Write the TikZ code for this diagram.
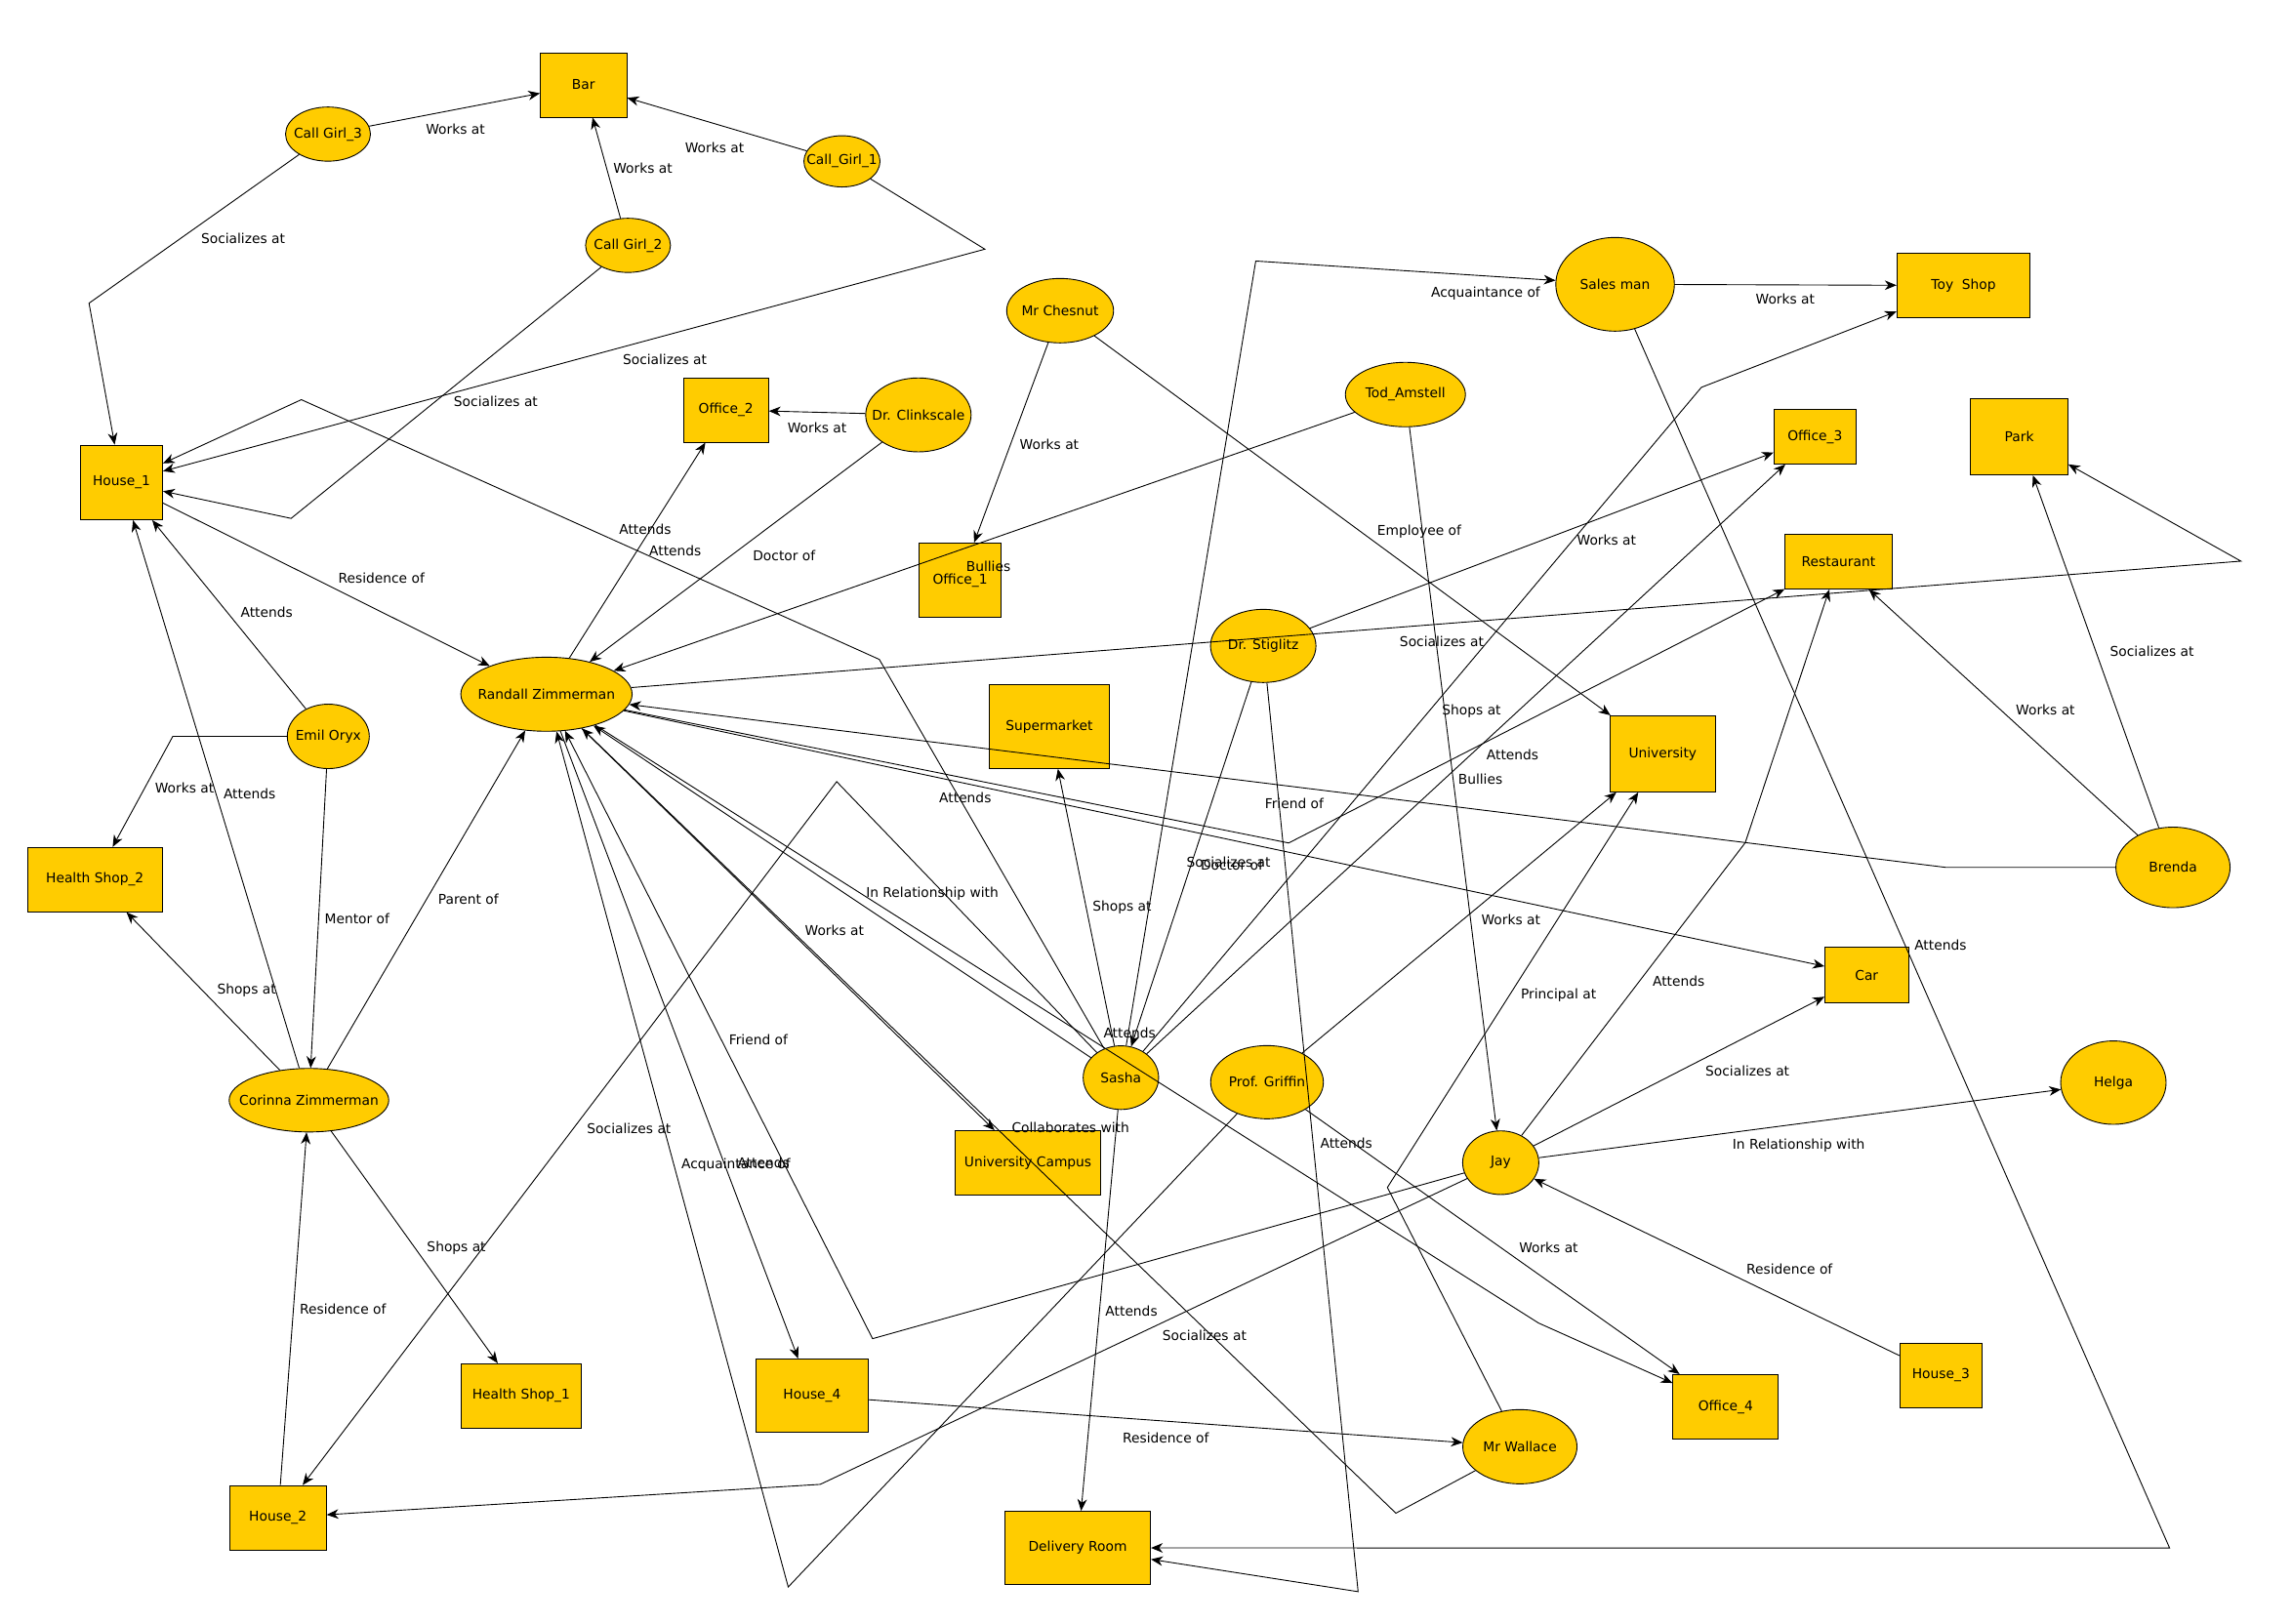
\documentclass[tikz,border=0pt]{standalone}
\usepackage{fontspec}
\setmainfont{DejaVu Sans}
\usetikzlibrary{arrows.meta,shapes.geometric}
\definecolor{nodeyellow}{HTML}{FFCC00}
\newcommand{\lblfont}{\fontsize{9.2}{11}\selectfont}
\newcommand{\ntext}[1]{\makebox[0pt]{#1}}
\tikzset{
	place/.style 2 args={rectangle, draw, fill=nodeyellow, line width=0.6pt, inner sep=0pt, minimum width=#1pt, minimum height=#2pt, font=\lblfont},
	person/.style 2 args={ellipse, draw, fill=nodeyellow, line width=0.6pt, inner sep=0pt, minimum width=#1pt, minimum height=#2pt, font=\lblfont},
	rel/.style={-{Stealth[length=8pt,width=6.5pt,inset=2.5pt]}, line width=0.6pt},
	lbl/.style={font=\lblfont, inner sep=0pt}
}
\begin{document}
\begin{tikzpicture}[x=1pt, y=-1pt]
	\fill[white] (0,0) rectangle (1565.3,1109.3);
	\useasboundingbox (0,0) rectangle (1565.3,1109.3);
	% places
	\node[place={59}{44}] (bar) at (398.5,58) {\ntext{Bar}};
	\node[place={56}{51}] (houseone) at (83,329.5) {\ntext{House\_1}};
	\node[place={58}{44}] (officetwo) at (495.8,280) {\ntext{Office\_2}};
	\node[place={56}{51}] (officeone) at (655.7,396.4) {\ntext{Office\_1}};
	\node[place={92}{44}] (hstwo) at (64.8,600.8) {\ntext{Health Shop\_2}};
	\node[place={82}{57}] (supermarket) at (716.6,496.4) {\ntext{Supermarket}};
	\node[place={82}{44}] (hsone) at (355.9,953.5) {\ntext{Health Shop\_1}};
	\node[place={77}{50}] (housefour) at (554.6,953.3) {\ntext{House\_4}};
	\node[place={66}{44}] (housetwo) at (189.8,1036.7) {\ntext{House\_2}};
	\node[place={99}{44}] (campus) at (702,794.3) {\ntext{University Campus}};
	\node[place={99.5}{50}] (delivery) at (736,1057.3) {\ntext{Delivery Room}};
	\node[place={91}{44}] (toyshop) at (1341,195) {\ntext{Toy\ \ Shop}};
	\node[place={56}{37}] (officethree) at (1239.5,298.4) {\ntext{Office\_3}};
	\node[place={66.5}{52}] (park) at (1379,298.4) {\ntext{Park}};
	\node[place={73}{37.5}] (restaurant) at (1255.6,383.6) {\ntext{Restaurant}};
	\node[place={72}{52}] (university) at (1135.5,514.9) {\ntext{University}};
	\node[place={57}{38}] (car) at (1274.8,666.1) {\ntext{Car}};
	\node[place={72}{44}] (officefour) at (1178.5,960.9) {\ntext{Office\_4}};
	\node[place={56}{44}] (housethree) at (1325.5,939.6) {\ntext{House\_3}};
	% people
	\node[person={58}{37}] (cgthree) at (224,91.6) {\ntext{Call Girl\_3}};
	\node[person={52}{35}] (cgone) at (575,110.2) {\ntext{Call\_Girl\_1}};
	\node[person={58}{37}] (cgtwo) at (428.9,167.6) {\ntext{Call Girl\_2}};
	\node[person={72}{50.5}] (clinkscale) at (627.2,283.4) {\ntext{Dr. Clinkscale}};
	\node[person={73}{44}] (chesnut) at (724,212.2) {\ntext{Mr Chesnut}};
	\node[person={82}{44}] (tod) at (959.8,269.5) {\ntext{Tod\_Amstell}};
	\node[person={81}{64}] (salesman) at (1103,194.2) {\ntext{Sales man}};
	\node[person={72}{50}] (stiglitz) at (862.7,441.2) {\ntext{Dr. Stiglitz}};
	\node[person={78}{55}] (brenda) at (1484,592.5) {\ntext{Brenda}};
	\node[person={117}{50.6}] (randall) at (373.2,474.2) {\ntext{Randall Zimmerman}};
	\node[person={56}{44}] (emil) at (224.2,503) {\ntext{Emil Oryx}};
	\node[person={109}{43.4}] (corinna) at (211,751.5) {\ntext{Corinna Zimmerman}};
	\node[person={51.5}{43.5}] (sasha) at (765.5,736.1) {\ntext{Sasha}};
	\node[person={77}{50}] (griffin) at (865.3,739.2) {\ntext{Prof. Griffin}};
	\node[person={52}{43.5}] (jay) at (1024.9,794.2) {\ntext{Jay}};
	\node[person={72}{57}] (helga) at (1443.3,739.5) {\ntext{Helga}};
	\node[person={78}{50.7}] (wallace) at (1038,988.2) {\ntext{Mr Wallace}};
	% relations
	\draw[rel] (cgthree) -- (bar) node[lbl] at (311,88) {Works at};
	\draw[rel] (cgone) -- (bar) node[lbl] at (488,101) {Works at};
	\draw[rel] (cgtwo) -- (bar) node[lbl] at (439,115) {Works at};
	\draw[rel] (cgthree) -- (60.8,207.1) -- (houseone) node[lbl] at (166,163) {Socializes at};
	\draw[rel] (cgone) -- (672.6,170.2) -- (houseone) node[lbl] at (454,245.4) {Socializes at};
	\draw[rel] (cgtwo) -- (198.8,354.1) -- (houseone) node[lbl] at (338.6,274.2) {Socializes at};
	\draw[rel] (sasha) -- (600.5,450.4) -- (205.8,273) -- (houseone) node[lbl] at (461.2,376) {Attends};
	\draw[rel] (houseone) -- (randall) node[lbl] at (260.5,394.6) {Residence of};
	\draw[rel] (emil) -- (houseone) node[lbl] at (182.1,418.1) {Attends};
	\draw[rel] (corinna) -- (houseone) node[lbl] at (170.4,542.5) {Attends};
	\draw[rel] (emil) -- (118,503) -- (hstwo) node[lbl] at (126,538) {Works at};
	\draw[rel] (emil) -- (corinna) node[lbl] at (243.9,627.6) {Mentor of};
	\draw[rel] (corinna) -- (randall) node[lbl] at (319.9,614.4) {Parent of};
	\draw[rel] (corinna) -- (hstwo) node[lbl] at (168.4,676.4) {Shops at};
	\draw[rel] (corinna) -- (hsone) node[lbl] at (311.7,852.4) {Shops at};
	\draw[rel] (housetwo) -- (corinna) node[lbl] at (234.2,894.5) {Residence of};
	\draw[rel] (randall) -- (officetwo) node[lbl] at (440.6,361.7) {Attends};
	\draw[rel] (clinkscale) -- (officetwo) node[lbl] at (558,292) {Works at};
	\draw[rel] (clinkscale) -- (randall) node[lbl] at (535.5,379.3) {Doctor of};
	\draw[rel] (tod) -- (randall) node[lbl] at (675,387.2) {Bullies};
	\draw[rel] (chesnut) -- (officeone) node[lbl] at (716.6,303.3) {Works at};
	\draw[rel] (chesnut) -- (university) node[lbl] at (969.3,362.8) {Employee of};
	\draw[rel] (salesman) -- (toyshop) node[lbl] at (1219.2,204.1) {Works at};
	\draw[rel] (sasha) -- (857.6,178.3) -- (salesman) node[lbl] at (1014.6,200.3) {Acquaintance of};
	\draw[rel] (tod) -- (jay) node[lbl] at (1011,532.2) {Bullies};
	\draw[rel] (stiglitz) -- (officethree) node[lbl] at (1097.2,368.6) {Works at};
	\draw[rel] (sasha) -- (1161.9,264.6) -- (toyshop) node[lbl] at (1005,486) {Shops at};
	\draw[rel] (sasha) -- (officethree) node[lbl] at (1033,515.6) {Attends};
	\draw[rel] (randall) -- (1530.4,383.3) -- (park) node[lbl] at (984.6,438) {Socializes at};
	\draw[rel] (randall) -- (880.1,575.8) -- (restaurant) node[lbl] at (839,589) {Socializes at};
	\draw[rel] (brenda) -- (1329,592.5) -- (randall) node[lbl] at (883.9,549.1) {Friend of};
	\draw[rel] (randall) -- (car) node[lbl] at (659.2,545.2) {Attends};
	\draw[rel] (brenda) -- (restaurant) node[lbl] at (1396.9,484.8) {Works at};
	\draw[rel] (brenda) -- (park) node[lbl] at (1469.7,445.2) {Socializes at};
	\draw[rel] (sasha) -- (randall) node[lbl] at (636.7,610.4) {In Relationship with};
	\draw[rel] (randall) -- (campus) node[lbl] at (569.9,635.7) {Works at};
	\draw[rel] (sasha) -- (supermarket) node[lbl] at (766.3,619.9) {Shops at};
	\draw[rel] (stiglitz) -- (sasha) node[lbl] at (841.3,590.7) {Doctor of};
	\draw[rel] (griffin) -- (university) node[lbl] at (1031.8,628.3) {Works at};
	\draw[rel] (salesman) -- (1481.7,1057.4) -- (delivery) node[lbl] at (1325.2,645.8) {Attends};
	\draw[rel] (wallace) -- (947.5,811.1) -- (university) node[lbl] at (1064.4,679.9) {Principal at};
	\draw[rel] (jay) -- (1191.9,575.6) -- (restaurant) node[lbl] at (1146.4,670.5) {Attends};
	\draw[rel] (jay) -- (car) node[lbl] at (1193.4,731.6) {Socializes at};
	\draw[rel] (jay) -- (helga) node[lbl] at (1228.4,782.6) {In Relationship with};
	\draw[rel] (housethree) -- (jay) node[lbl] at (1222.1,866.7) {Residence of};
	\draw[rel] (griffin) -- (officefour) node[lbl] at (1057.6,852.1) {Works at};
	\draw[rel] (stiglitz) -- (927.5,1087.2) -- (delivery) node[lbl] at (919.4,780.6) {Attends};
	\draw[rel] (randall) -- (1050.7,903.7) -- (officefour) node[lbl] at (771.4,705.8) {Attends};
	\draw[rel] (jay) -- (595.9,914.4) -- (randall) node[lbl] at (517.9,710.3) {Friend of};
	\draw[rel] (sasha) -- (571.4,533.9) -- (housetwo) node[lbl] at (429.6,771) {Socializes at};
	\draw[rel] (griffin) -- (538.3,1084) -- (randall) node[lbl] at (502.6,795.8) {Acquaintance of};
	\draw[rel] (randall) -- (housefour) node[lbl] at (521.4,794.5) {Attends};
	\draw[rel] (sasha) -- (delivery) node[lbl] at (772.7,895.3) {Attends};
	\draw[rel] (jay) -- (560.2,1013.9) -- (housetwo) node[lbl] at (822.6,912.5) {Socializes at};
	\draw[rel] (housefour) -- (wallace) node[lbl] at (796.2,982) {Residence of};
	\draw[rel] (wallace) -- (953.3,1033.6) -- (randall) node[lbl] at (731.1,770.5) {Collaborates with};
\end{tikzpicture}
\end{document}
